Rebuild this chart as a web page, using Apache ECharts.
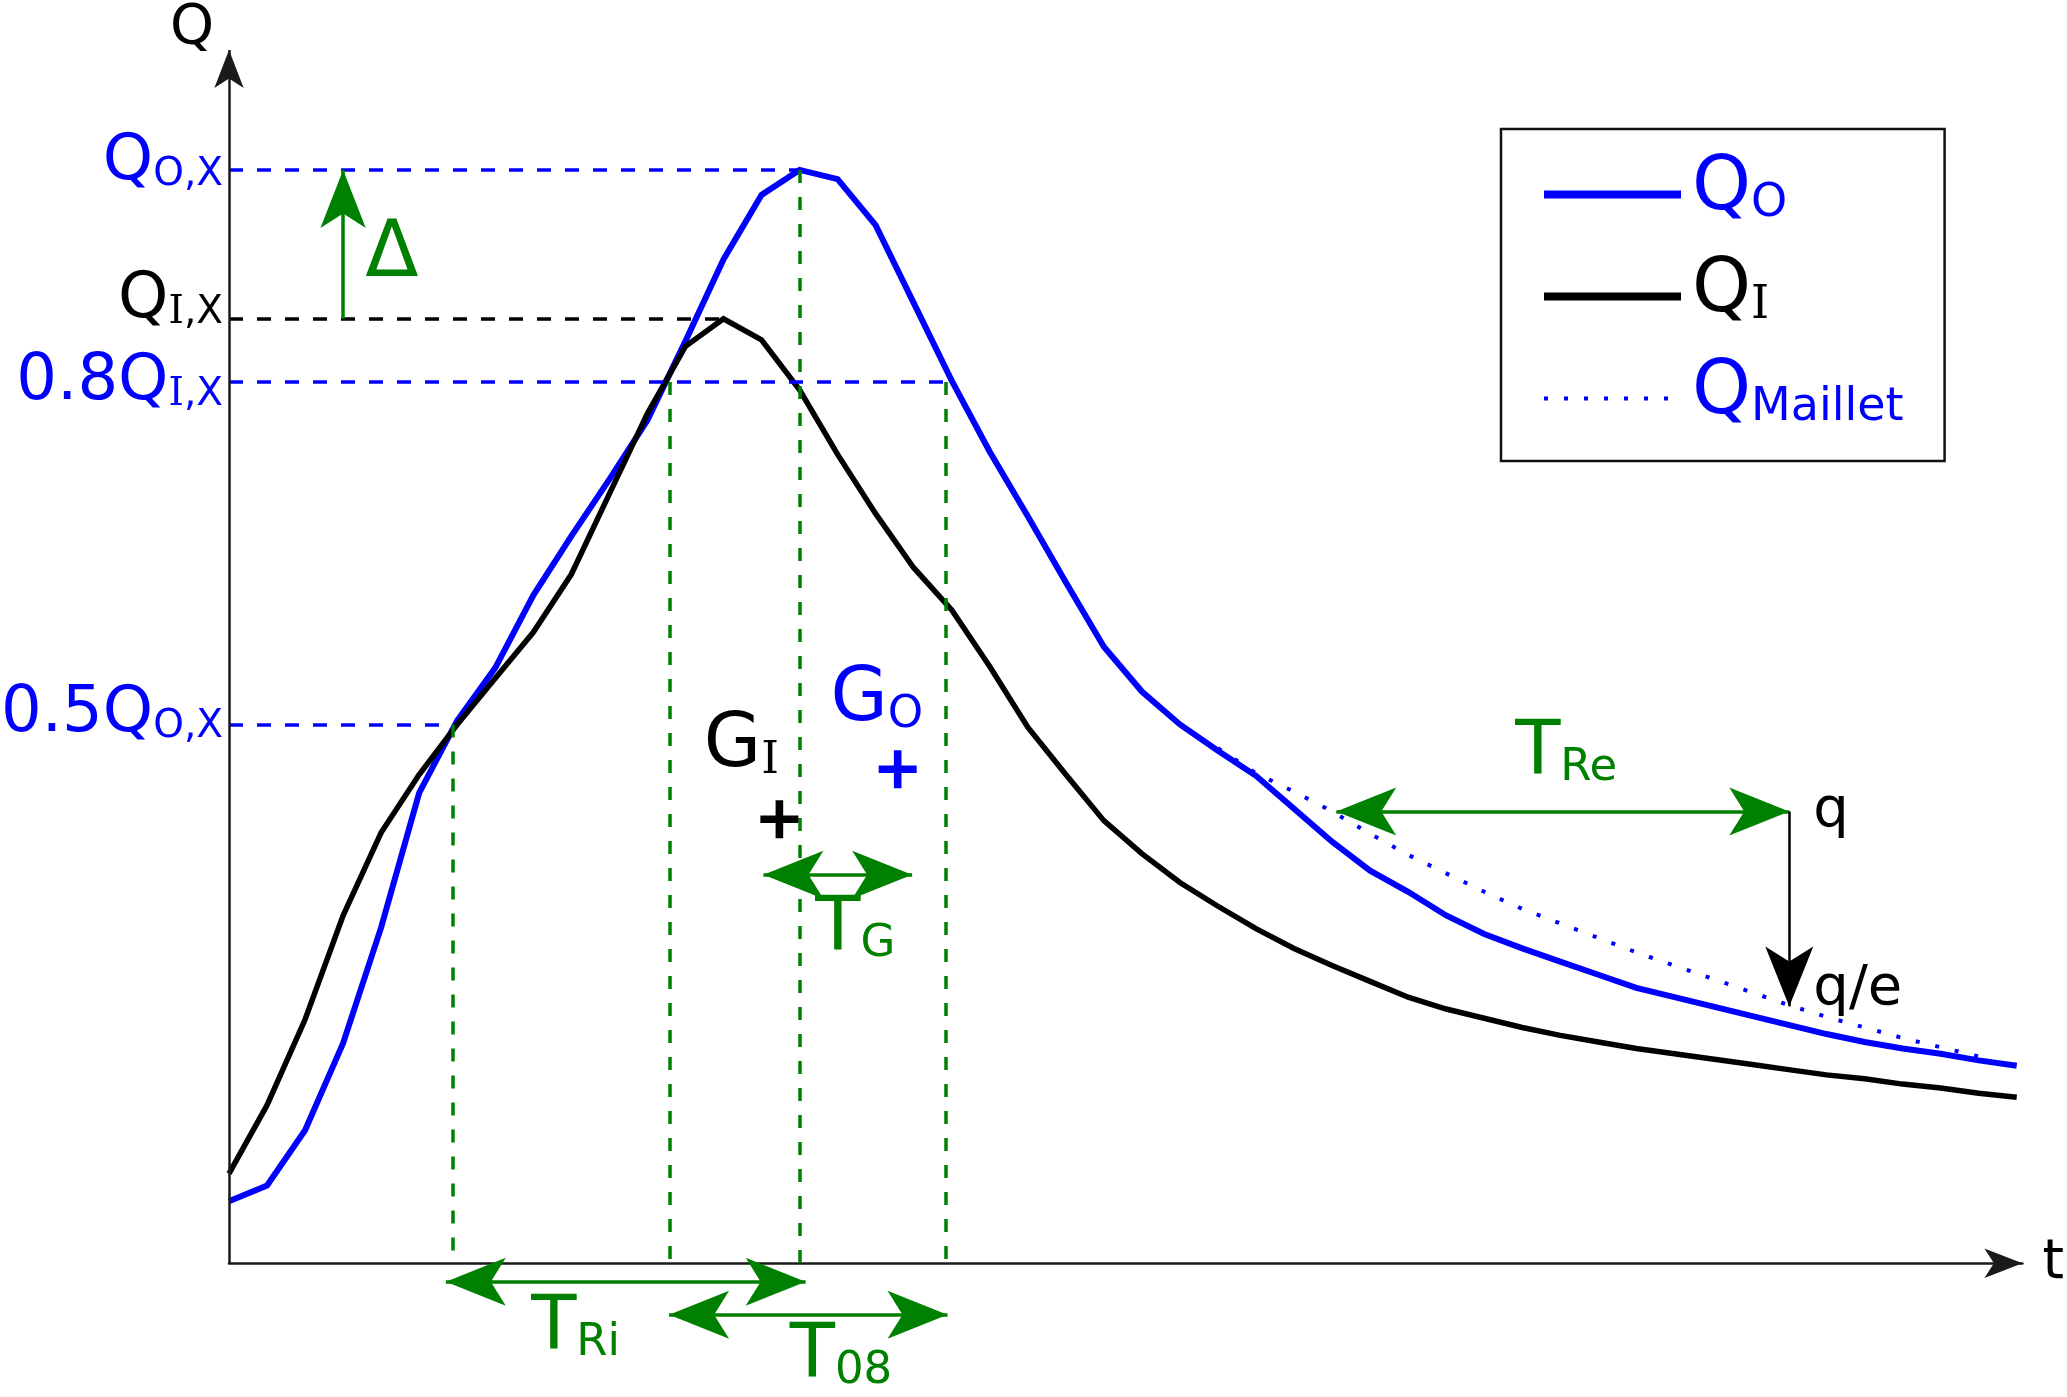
<!DOCTYPE html>
<html><head><meta charset="utf-8">
<script src="https://cdn.jsdelivr.net/npm/echarts@6/dist/echarts.min.js"></script>
<style>html,body{margin:0;padding:0;background:#fff}#c{width:2067px;height:1397px}</style>
</head><body><div id="c"></div>
<script>
// ---------------- data (schematic units) ----------------
const time = [0,1,2,3,4,5,6,7,8,9,10,11,12,13,14,15,16,17,18,19,20,21,22,23,24,25,26,27,28,29,30,31,32,33,34,35,36,37,38,39,40,41,42,43,44,45,46,47];
const qO = [47,59,101,167,255,357,412,452,507,552,595,640,700,762,811,830,823,788,729,670,616,567,517,468,434,409,389,370,345,320,298,282,264,250,239,229,219,209,202,195,188,181,174,168,163,159,154,150];
const qI = [68,120,185,264,327,371,409,444,479,523,584,645,696,717,701,663,614,569,528,496,453,407,371,336,311,289,271,254,239,226,214,202,193,186,179,173,168,163,159,155,151,147,143,140,136,133,129,126];
const mailletTime = [26,27,28,29,30,31,32,33,34,35,36,37,38,39,40,41,42,43,44,45,46];
const qMaillet = [391,372,358,343,326,310,296,282,269,258,247,236,226,216,206,196,187,179,171,164,157];

const legendNames = ['QO','QI','QMaillet'];
const legendLabels = ['{mB|Q}{sB|O}','{mK|Q}{iK|I}','{mB|Q}{sB|Maillet}'];

// reference levels on the Q axis
const peakO = Math.max(...qO), peakOTime = time[qO.indexOf(peakO)];
const peakI = Math.max(...qI), peakITime = time[qI.indexOf(peakI)];
const level08 = 669, level05 = 409;
const levelValue = [peakO, peakI, level08, level05];
const levelEnd = [peakOTime, peakITime, 18.85, 5.87];
const levelText = ['{mB|Q}{sB|O,X}','{mK|Q}{iK|I}{sK|,X}','{mB|0.8Q}{iB|I}{sB|,X}','{mB|0.5Q}{sB|O,X}'];

// vertical guides (time, top level)
const guideTime = [5.87, 11.6, peakOTime, 18.85];
const guideTop = [level05, level08, peakO, level08];

// double-headed time spans
const spanFrom = [5.70, 11.57, 14.05, 29.11];
const spanTo = [15.16, 18.89, 17.96, 41.02];
const spanLevel = [-14, -39, 295, 343];

// single arrows
const deltaTime = 3.0;
const decayTime = 41.02, decayFrom = 343, decayTo = 195;

// centroids G_I, G_O
const gTime = [14.47, 17.58];
const gValue = [337, 375];

// text notes
const noteText = ['{dG|Δ}','{mK|G}{iK|I}','{mB|G}{sB|O}','{mG|T}{sG|Re}','{mG|T}{sG|Ri}','{mG|T}{sG|08}','{mG|T}{sG|G}','{qK|q}','{qK|q/e}'];
const noteTime = [3.57, 12.47, 15.8, 33.8, 7.93, 14.73, 15.4, 41.64, 41.64];
const noteValue = [765, 392, 427, 387, -50, -71, 253, 343, 208];

// ---------------- styles ----------------
const BLUE = '#0000ff', BLACK = '#000000', GREEN = '#008000', AXIS = '#1a1a1a';
const FONT = 'DejaVu Sans', SERIF = 'DejaVu Serif';
const Y_MIN = -100, Y_MAX = 921, X_MAX = 47.15;

function richFor(S, s, Ls) {
  const cols = {B: BLUE, K: BLACK, G: GREEN};
  const r = {};
  for (const k in cols) {
    r['m' + k] = {fontSize: S, lineHeight: S, fontFamily: FONT, color: cols[k]};
    r['s' + k] = {fontSize: s, lineHeight: Ls, verticalAlign: 'bottom', fontFamily: FONT, color: cols[k]};
    r['i' + k] = {fontSize: s, lineHeight: Ls, verticalAlign: 'bottom', fontFamily: SERIF, color: cols[k]};
  }
  return r;
}
const notesRich = Object.assign(richFor(74, 45, 27), {
  dG: {fontSize: 78, lineHeight: 78, fontFamily: FONT, color: GREEN},
  qK: {fontSize: 56, lineHeight: 56, fontFamily: FONT, color: BLACK}
});

function head(size) { return {symbol: 'arrow', symbolSize: size}; }
const GREEN_HEAD = [36, 60];

// markLines of the level labels
const levelColor = [BLUE, BLACK, BLUE, BLUE];
const levelLift = [16, 36, 0, 20];
const levelLines = levelValue.map((v, k) => [
  {coord: [0, v], symbol: 'none',
   lineStyle: {color: levelColor[k], width: 3.5, type: [14, 14]},
   label: {show: true, position: 'start', distance: 6, formatter: levelText[k], padding: [0, 0, levelLift[k], 0]}},
  {coord: [levelEnd[k], v], symbol: 'none'}
]);

const annot = [];
annot.push([{coord: [0, 0], symbol: 'none', lineStyle: {color: AXIS, width: 2.5, type: 'solid'}},
            Object.assign({coord: [0, Y_MAX]}, head([22, 38]))]);
guideTime.forEach((t, k) => annot.push([
  {coord: [t, guideTop[k]], symbol: 'none', lineStyle: {color: GREEN, width: 3.5, type: [13, 14]}},
  {coord: [t, 0], symbol: 'none'}]));
spanFrom.forEach((a, k) => annot.push([
  Object.assign({coord: [a, spanLevel[k]], lineStyle: {color: GREEN, width: 3.5, type: 'solid'}}, head(GREEN_HEAD)),
  Object.assign({coord: [spanTo[k], spanLevel[k]]}, head(GREEN_HEAD))]));
annot.push([{coord: [deltaTime, peakI], symbol: 'none', lineStyle: {color: GREEN, width: 3.5, type: 'solid'}},
            Object.assign({coord: [deltaTime, peakO]}, head([34, 58]))]);
annot.push([{coord: [decayTime, decayFrom], symbol: 'none', lineStyle: {color: BLACK, width: 2.5, type: 'solid'}},
            Object.assign({coord: [decayTime, decayTo]}, head([36, 60]))]);

const PLUS = 'path://M0,40H100V60H0Z M40,0H60V100H40Z';

const chart = echarts.init(document.getElementById('c'), null, {renderer: 'canvas', devicePixelRatio: 1});
chart.setOption({
  animation: false,
  backgroundColor: '#ffffff',
  grid: {left: 229, right: 40, top: 46, bottom: 2, containLabel: false},
  xAxis: {
    type: 'value', min: 0, max: X_MAX,
    axisLine: {onZero: true, symbol: ['none', 'arrow'], symbolSize: [22, 38], symbolOffset: [0, 0],
               lineStyle: {color: AXIS, width: 2.5}},
    axisTick: {show: false}, axisLabel: {show: false}, splitLine: {show: false},
    name: 't', nameLocation: 'end', nameGap: 20,
    nameTextStyle: {fontSize: 55, fontFamily: FONT, color: BLACK, align: 'left', verticalAlign: 'middle'}
  },
  yAxis: {
    type: 'value', min: Y_MIN, max: Y_MAX,
    axisLine: {show: false}, axisTick: {show: false}, axisLabel: {show: false}, splitLine: {show: false},
    name: 'Q', nameLocation: 'end', nameGap: 22,
    nameTextStyle: {fontSize: 56, fontFamily: FONT, color: BLACK, align: 'right', verticalAlign: 'middle', padding: [0, 15, 0, 0]}
  },
  legend: {
    orient: 'vertical', left: 1501, top: 129, padding: [23, 41, 30, 39],
    itemWidth: 137, itemHeight: 14, itemGap: 27, align: 'left',
    borderColor: '#111', borderWidth: 2.5, backgroundColor: '#fff',
    selectedMode: false,
    itemStyle: {opacity: 0},
    data: legendNames.map((n, k) => ({name: n, lineStyle: {width: [8, 8, 4][k]}})),
    formatter: n => legendLabels[legendNames.indexOf(n)],
    textStyle: {padding: [0, 0, 10, 6], rich: richFor(75, 46, 30)}
  },
  series: [
    {name: 'QO', type: 'line', data: time.map((t, k) => [t, qO[k]]), symbol: 'none', clip: false, silent: true, z: 3,
     lineStyle: {color: BLUE, width: 6, join: 'miter'}, itemStyle: {color: BLUE},
     markLine: {silent: true, symbol: 'none', label: {show: false, rich: richFor(64, 39, 24)}, emphasis: {disabled: true},
                data: levelLines.filter((l, k) => levelColor[k] === BLUE)}},
    {name: 'QMaillet', type: 'line', data: mailletTime.map((t, k) => [t, qMaillet[k]]), symbol: 'none', clip: false, silent: true, z: 2,
     lineStyle: {color: BLUE, width: 4, type: [4, 16], cap: 'butt'}, itemStyle: {color: BLUE}},
    {name: 'QI', type: 'line', data: time.map((t, k) => [t, qI[k]]), symbol: 'none', clip: false, silent: true, z: 4,
     lineStyle: {color: BLACK, width: 5.5, join: 'miter'}, itemStyle: {color: BLACK},
     markLine: {silent: true, symbol: 'none', label: {show: false, rich: richFor(64, 39, 24)}, emphasis: {disabled: true},
                data: levelLines.filter((l, k) => levelColor[k] === BLACK)}},
    {name: 'annot', type: 'line', data: [], clip: false, silent: true, z: 5,
     markLine: {silent: true, label: {show: false}, emphasis: {disabled: true}, data: annot}},
    {name: 'G', type: 'scatter', clip: false, silent: true, z: 6, symbol: PLUS, symbolSize: 38,
     itemStyle: {opacity: 1},
     data: gTime.map((t, k) => ({value: [t, gValue[k]], itemStyle: {color: [BLACK, BLUE][k], opacity: 1}}))},
    {name: 'notes', type: 'scatter', clip: false, silent: true, z: 7, symbolSize: 1,
     itemStyle: {color: 'rgba(0,0,0,0)', opacity: 1},
     label: {show: true, position: 'right', distance: 0, rich: notesRich},
     data: noteText.map((txt, k) => ({value: [noteTime[k], noteValue[k]], label: {formatter: txt}}))}
  ]
});
</script>
</body></html>
